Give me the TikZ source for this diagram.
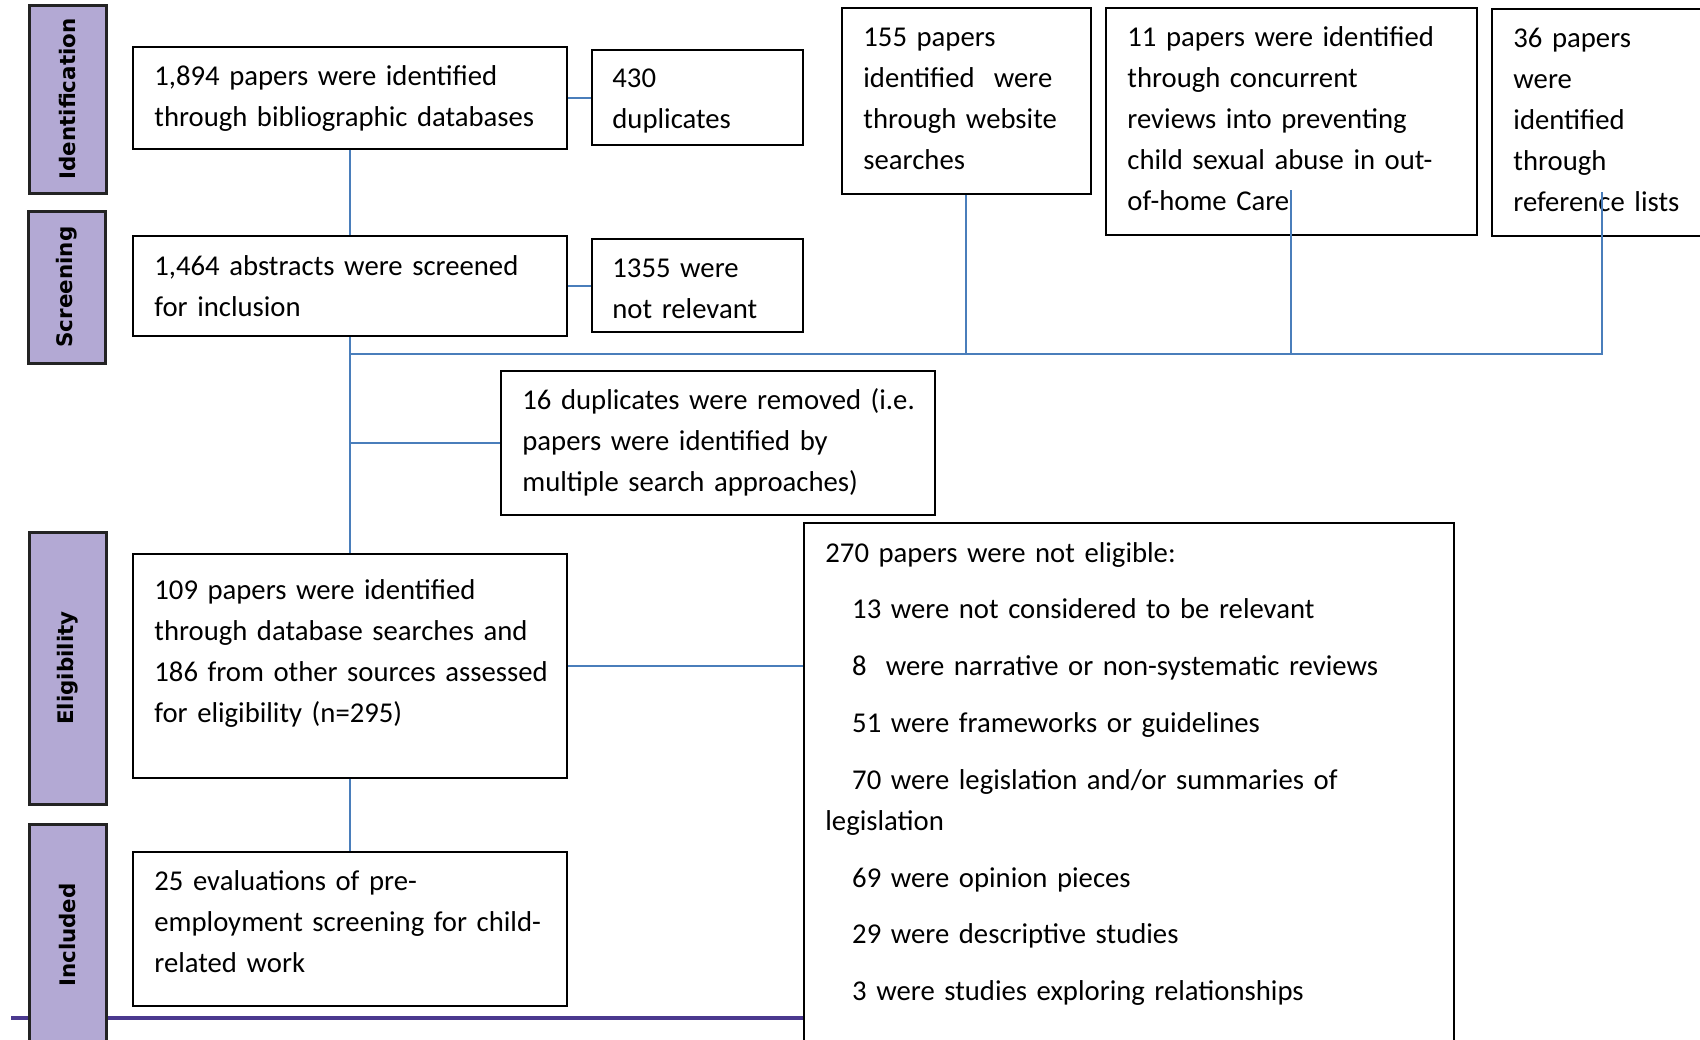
\documentclass[tikz,border=0pt]{standalone}
\usepackage{fontspec}
\setmainfont{Carlito}
\newfontfamily\barfont{DejaVu Sans}
\definecolor{barfill}{RGB}{179,169,212}
\definecolor{barline}{RGB}{35,35,35}
\definecolor{connblue}{RGB}{74,126,187}
\definecolor{stagepurple}{RGB}{75,57,143}
\begin{document}
\begin{tikzpicture}[x=0.5pt,y=-0.5pt,
  box/.style={draw=black, line width=1pt, inner sep=0pt, fill=white},
  bar/.style={draw=barline, line width=1.5pt, fill=barfill, inner sep=0pt},
  bartext/.style={rotate=90, font=\barfont\bfseries\fontsize{10.7}{12}\selectfont, inner sep=0pt},
  txt/.style={anchor=base west, inner sep=0pt, text width=420pt, align=left, font=\fontsize{14.35}{20.6}\selectfont},
  conn/.style={draw=connblue, line width=1pt},
  stageline/.style={draw=stagepurple, line width=2pt}]
\useasboundingbox (0,0) rectangle (1700,1039);
\clip (0,0) rectangle (1700,1039);
% purple stage line (behind bars)
\coordinate (pl) at (11,1018);
% boxes
\node[box, minimum width=217pt, minimum height=51pt] (A) at (350,98) {};
\node[box, minimum width=105.5pt, minimum height=47.5pt] (B) at (697.5,97.5) {};
\node[box, minimum width=217pt, minimum height=50pt] (C) at (350,286) {};
\node[box, minimum width=105.5pt, minimum height=46.5pt] (D) at (697.5,285.5) {};
\node[box, minimum width=124.5pt, minimum height=93pt] (E) at (966,101) {};
\node[box, minimum width=185.5pt, minimum height=113.5pt] (F) at (1291.5,121.5) {};
\node[box, minimum width=114pt, minimum height=113.5pt] (G) at (1606,122.5) {};
\node[box, minimum width=217pt, minimum height=72pt] (H) at (718,443) {};
\node[box, minimum width=217pt, minimum height=112pt] (I) at (350,666) {};
\node[box, minimum width=217pt, minimum height=77pt] (J) at (350,929) {};
\node[box, minimum width=325pt, minimum height=268.5pt] (K) at (1129,791.5) {};
\draw[stageline] (pl) -- (pl -| K.west);
% stage bars
\node[bar, minimum width=38.5pt, minimum height=94pt] (bId) at (67.5,99) {};
\node[bar, minimum width=38.5pt, minimum height=76pt] (bSc) at (66.5,287) {};
\node[bar, minimum width=38.5pt, minimum height=136pt] (bEl) at (67.5,668) {};
\node[bar, minimum width=38.5pt, minimum height=113pt] (bIn) at (67.5,937) {};
\node[bartext] (lId) at (bId.center) {Identification};
\node[bartext] (lSc) at (bSc.center) {Screening};
\node[bartext] (lEl) at (bEl.center) {Eligibility};
\node[bartext] (lIn) at (67.5,935) {Included};
% texts
\node[txt] (tA) at (154,85) {1,894 papers were identified\\through bibliographic databases};
\node[txt] (tB) at (612,87) {430\\duplicates};
\node[txt] (tC) at (154,275) {1,464 abstracts were screened\\for inclusion};
\node[txt] (tD) at (612,277) {1355 were\\not relevant};
\node[txt] (tE) at (863,46) {155 papers\\identified\ \ were\\through website\\searches};
\node[txt] (tF) at (1127,46) {11 papers were identified\\through concurrent\\reviews into preventing\\child sexual abuse in out-\\of-home Care};
\node[txt] (tG) at (1513,47) {36 papers\\were\\identified\\through\\reference lists};
\node[txt] (tH) at (522,409) {16 duplicates were removed (i.e.\\papers were identified by\\multiple search approaches)};
\node[txt] (tI) at (154,599) {109 papers were identified\\through database searches and\\186 from other sources assessed\\for eligibility (n=295)};
\node[txt] (tJ) at (154,890) {25 evaluations of pre-\\employment screening for child-\\related work};
\node[txt] (tK) at (825,562) {270 papers were not eligible:\\[7.85pt]
\hspace*{13.4pt}13 were not considered to be relevant\\[7.85pt]
\hspace*{13.4pt}8\ \ were narrative or non-systematic reviews\\[7.85pt]
\hspace*{13.4pt}51 were frameworks or guidelines\\[7.85pt]
\hspace*{13.4pt}70 were legislation and/or summaries of\\
legislation\\[7.5pt]
\hspace*{13.4pt}69 were opinion pieces\\[7.85pt]
\hspace*{13.4pt}29 were descriptive studies\\[7.85pt]
\hspace*{13.4pt}3 were studies exploring relationships};
% connectors
\coordinate (j) at (350,354);
\coordinate (fv) at (1291,190);
\coordinate (gv) at (1602,192);
\draw[conn] (A.east) -- (A.east -| B.west);
\draw[conn] (A.south) -- (C.north);
\draw[conn] (C.east) -- (C.east -| D.west);
\draw[conn] (C.south) -- (I.north);
\draw[conn] (gv) |- (j);
\draw[conn] (fv) -- (fv |- j);
\draw[conn] (E.south) -- (E.south |- j);
\draw[conn] (C.south |- H.west) -- (H.west);
\draw[conn] (I.east) -- (I.east -| K.west);
\draw[conn] (I.south) -- (J.north);
\end{tikzpicture}
\end{document}
